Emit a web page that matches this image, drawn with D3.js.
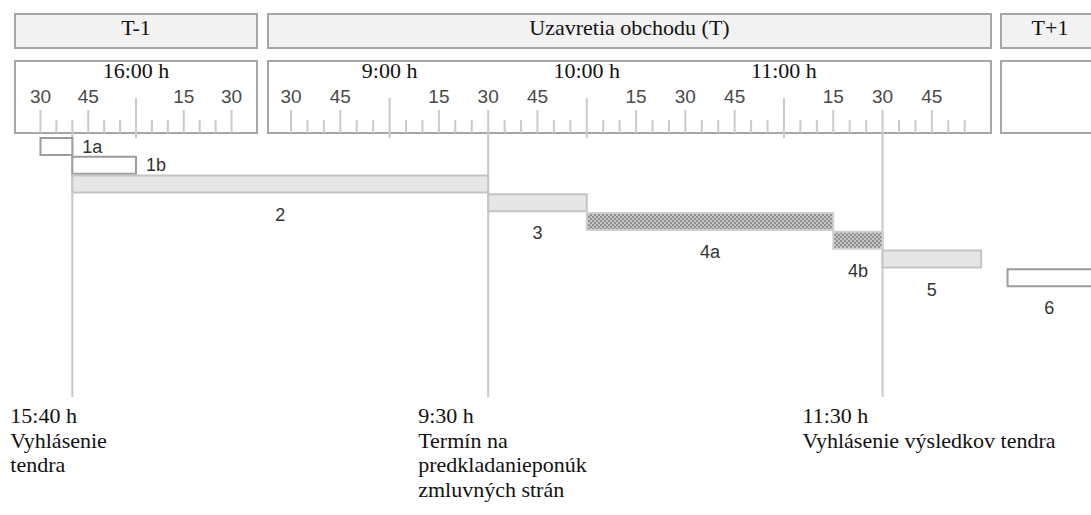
<!DOCTYPE html>
<html>
<head>
<meta charset="utf-8">
<script src="https://cdn.jsdelivr.net/npm/d3@7"></script>
<style>
  body { margin: 0; background: #fff; }
  svg { display: block; }
</style>
</head>
<body>
<div id="chart"></div>
<script>
// settlement days and the visible time window of each one
const days = ["T-1", "T", "T+1"]
const dayTitles = ["T-1", "Uzavretia obchodu (T)", "T+1"]
const dayDates = ["2000-01-03", "2000-01-04", "2000-01-05"]
const panelFrom = ["15:22", "8:23", "7:58"]
const panelTo = ["16:38", "12:03", "9:30"]
const tickFrom = ["15:30", "8:30", null]
const tickTo = ["16:30", "11:55", null]

// the steps of the tender
const tasks = ["1a", "1b", "2", "3", "4a", "4b", "5", "6"]
const taskStart = ["T-1 15:30", "T-1 15:40", "T-1 15:40", "T 9:30", "T 10:00", "T 11:15", "T 11:30", "T+1 8:00"]
const taskEnd = ["T-1 15:40", "T-1 16:00", "T 9:30", "T 10:00", "T 11:15", "T 11:30", "T 12:00", "T+1 9:00"]
const taskKind = ["empty", "empty", "light", "light", "hatched", "hatched", "light", "empty"]

// milestones written under the chart
const milestones = ["T-1 15:40", "T 9:30", "T 11:30"]
const milestoneText = [
    ["Vyhlásenie", "tendra"],
    ["Termín na", "predkladanieponúk", "zmluvných strán"],
    ["Vyhlásenie výsledkov tendra"]
]

const width = 1091, height = 515
const serif = "'Liberation Serif', 'Times New Roman', serif"
const sans = "'Liberation Sans', Arial, sans-serif"

const parse = d3.timeParse("%Y-%m-%d %H:%M")
function at(s) {
    var parts = s.split(" ")
    return parse(dayDates[days.indexOf(parts[0])] + " " + parts[1])
}
function dayTime(i, t) {
    return parse(dayDates[i] + " " + t)
}

// pixel extents of the three day panels
const panelX = [[15, 257], [268, 991], [1001, 1303]]
// how far left of its line each milestone note starts
const noteDx = [-62, -70, -80]

var domain = [], range = []
days.forEach(function(d, i) {
    domain.push(dayTime(i, panelFrom[i]), dayTime(i, panelTo[i]))
    range.push(panelX[i][0], panelX[i][1])
})
const x = d3.scaleTime().domain(domain).range(range)

const y = d3.scaleBand().domain(tasks).range([138, 288]).paddingInner(0)
const barH = 17

const fill = d3.scaleOrdinal().domain(["empty", "light", "hatched"]).range(["#ffffff", "#e6e6e6", "url(#hatch)"])
const stroke = d3.scaleOrdinal().domain(["empty", "light", "hatched"]).range(["#9c9c9c", "#c4c4c4", "#d0d0d0"])

const svg = d3.select("#chart").append("svg")
    .attr("width", width)
    .attr("height", height)

var pat = svg.append("defs").append("pattern")
    .attr("id", "hatch")
    .attr("width", 4)
    .attr("height", 4)
    .attr("patternUnits", "userSpaceOnUse")
pat.append("rect").attr("width", 4).attr("height", 4).attr("fill", "#c6c6c6")
pat.append("rect").attr("width", 2).attr("height", 2).attr("fill", "#8f8f8f")
pat.append("rect").attr("x", 2).attr("y", 2).attr("width", 2).attr("height", 2).attr("fill", "#8f8f8f")

// header boxes with day names
var head = svg.append("g")
head.selectAll("rect")
    .data(days)
    .join("rect")
    .attr("x", (d, i) => x(dayTime(i, panelFrom[i])))
    .attr("width", (d, i) => x(dayTime(i, panelTo[i])) - x(dayTime(i, panelFrom[i])))
    .attr("y", 14)
    .attr("height", 34)
    .attr("fill", "#f2f2f2")
    .attr("stroke", "#a6a6a6")
    .attr("stroke-width", 2)
head.selectAll("text")
    .data(dayTitles)
    .join("text")
    .attr("x", (d, i) => (x(dayTime(i, panelFrom[i])) + Math.min(width, x(dayTime(i, panelTo[i])))) / 2 + (i == 2 ? 4 : 0))
    .attr("y", 35)
    .attr("text-anchor", "middle")
    .style("font", "22px " + serif)
    .attr("fill", "#111")
    .text(d => d)

// time ruler boxes
var ruler = svg.append("g")
ruler.selectAll("rect")
    .data(days)
    .join("rect")
    .attr("x", (d, i) => x(dayTime(i, panelFrom[i])))
    .attr("width", (d, i) => x(dayTime(i, panelTo[i])) - x(dayTime(i, panelFrom[i])))
    .attr("y", 61)
    .attr("height", 72)
    .attr("fill", "#fff")
    .attr("stroke", "#a6a6a6")
    .attr("stroke-width", 2)

var ticks = []
days.forEach(function(d, i) {
    if (!tickFrom[i]) return
    var t0 = dayTime(i, tickFrom[i]), t1 = dayTime(i, tickTo[i])
    d3.timeMinute.every(5).range(t0, new Date(+t1 + 1)).forEach(t => ticks.push(t))
})

const minuteFmt = d3.timeFormat("%M")
const hourFmt = d3.timeFormat("%-H:%M h")

ruler.selectAll("line.tick")
    .data(ticks)
    .join("line")
    .attr("class", "tick")
    .attr("x1", d => x(d))
    .attr("x2", d => x(d))
    .attr("y1", d => d.getMinutes() == 0 ? 98 : d.getMinutes() % 15 == 0 ? 110 : 120)
    .attr("y2", d => d.getMinutes() == 0 ? 138 : 133)
    .attr("stroke", "#cacaca")
    .attr("stroke-width", 2)

ruler.selectAll("text.minute")
    .data(ticks.filter(d => d.getMinutes() % 15 == 0 && d.getMinutes() != 0))
    .join("text")
    .attr("class", "minute")
    .attr("x", d => x(d))
    .attr("y", 103)
    .attr("text-anchor", "middle")
    .style("font", "19px " + sans)
    .attr("fill", "#4a4a4a")
    .text(d => minuteFmt(d))

ruler.selectAll("text.hour")
    .data(ticks.filter(d => d.getMinutes() == 0))
    .join("text")
    .attr("class", "hour")
    .attr("x", d => x(d))
    .attr("y", 78)
    .attr("text-anchor", "middle")
    .style("font", "22px " + serif)
    .attr("fill", "#111")
    .text(d => hourFmt(d))

// milestone lines
svg.append("g").selectAll("line")
    .data(milestones)
    .join("line")
    .attr("x1", d => x(at(d)))
    .attr("x2", d => x(at(d)))
    .attr("y1", 133)
    .attr("y2", 397)
    .attr("stroke", "#c8c8c8")
    .attr("stroke-width", 2)

// task bars
var bars = svg.append("g")
bars.selectAll("rect")
    .data(tasks)
    .join("rect")
    .attr("x", (d, i) => x(at(taskStart[i])))
    .attr("width", (d, i) => x(at(taskEnd[i])) - x(at(taskStart[i])))
    .attr("y", d => y(d))
    .attr("height", barH)
    .attr("fill", (d, i) => fill(taskKind[i]))
    .attr("stroke", (d, i) => stroke(taskKind[i]))
    .attr("stroke-width", 2)

bars.selectAll("text")
    .data(tasks)
    .join("text")
    .attr("x", function(d, i) {
        var x0 = x(at(taskStart[i])), x1 = x(at(taskEnd[i]))
        if (i < 2) return x1 + 10
        return (x0 + Math.min(x1, width)) / 2
    })
    .attr("y", (d, i) => i < 2 ? y(d) + barH / 2 + 6 : y(d) + barH + 28)
    .attr("text-anchor", "middle")
    .attr("text-anchor", (d, i) => i < 2 ? "start" : "middle")
    .style("font", "18px " + sans)
    .attr("fill", "#333")
    .text(d => d)

// milestone descriptions
var notes = svg.append("g")
milestones.forEach(function(m, i) {
    var lines = [hourFmt(at(m))].concat(milestoneText[i])
    notes.append("text")
        .attr("x", x(at(m)) + noteDx[i])
        .attr("y", 423)
        .style("font", "22px " + serif)
        .attr("fill", "#111")
        .selectAll("tspan")
        .data(lines)
        .join("tspan")
        .attr("x", x(at(m)) + noteDx[i])
        .attr("dy", (d, j) => j == 0 ? 0 : 24.7)
        .text(d => d)
})
</script>
</body>
</html>
